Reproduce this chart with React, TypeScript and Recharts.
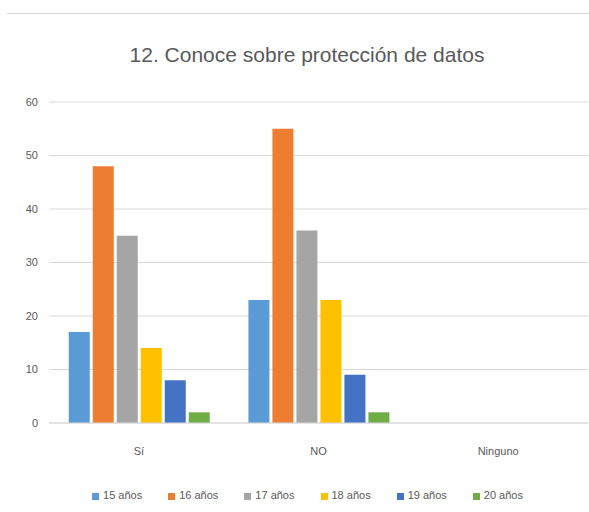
import { BarChart, Bar, XAxis, YAxis, CartesianGrid, Legend } from 'recharts'

const categories = ['Sí', 'NO', 'Ninguno']
const seriesNames = ['15 años', '16 años', '17 años', '18 años', '19 años', '20 años']
const colors = ['#5B9BD5', '#ED7D31', '#A5A5A5', '#FFC000', '#4472C4', '#70AD47']

const age15 = [17, 23, 0]
const age16 = [48, 55, 0]
const age17 = [35, 36, 0]
const age18 = [14, 23, 0]
const age19 = [8, 9, 0]
const age20 = [2, 2, 0]

const yTicks = [0, 10, 20, 30, 40, 50, 60]

const series = [age15, age16, age17, age18, age19, age20]

const data = categories.map((name, i) => {
  const row: Record<string, string | number> = { name }
  seriesNames.forEach((s, j) => {
    row[s] = series[j][i]
  })
  return row
})

const font = '"Liberation Sans", Arial, sans-serif'
const textColor = '#595959'

const App = () => {
  return (
    <div style={{ position: 'absolute', left: 0, top: 0, width: 589, height: 512, background: '#fff', fontFamily: font }}>
      <div style={{ position: 'absolute', left: 7, right: 0, top: 13, height: 1, background: '#d9d9d9' }} />
      <div
        style={{
          position: 'absolute',
          left: 0,
          width: 614,
          top: 43,
          textAlign: 'center',
          fontSize: 21,
          color: textColor,
        }}
      >
        12. Conoce sobre protección de datos
      </div>
      <BarChart
        width={589}
        height={512}
        data={data}
        margin={{ top: 102, right: 1, bottom: 47, left: 9 }}
        barGap={3}
        barCategoryGap="11%"
      >
        <CartesianGrid vertical={false} stroke="#d9d9d9" />
        <XAxis
          dataKey="name"
          axisLine={{ stroke: '#d9d9d9' }}
          tickLine={false}
          tickMargin={18}
          tick={{ fill: textColor, fontSize: 11, fontFamily: font }}
        />
        <YAxis
          width={40}
          domain={[0, 60]}
          ticks={yTicks}
          axisLine={false}
          tickLine={false}
          tickMargin={5}
          tick={{ fill: textColor, fontSize: 11, fontFamily: font }}
        />
        <Legend
          verticalAlign="bottom"
          iconType="square"
          iconSize={7}
          wrapperStyle={{ top: 489, paddingLeft: 22, fontSize: 11, fontFamily: font }}
          formatter={(value: string) => (
            <span style={{ color: textColor, marginRight: 16 }}>{value}</span>
          )}
        />
        {seriesNames.map((s, i) => (
          <Bar key={s} dataKey={s} fill={colors[i]} isAnimationActive={false} />
        ))}
      </BarChart>
    </div>
  )
}

export default App
